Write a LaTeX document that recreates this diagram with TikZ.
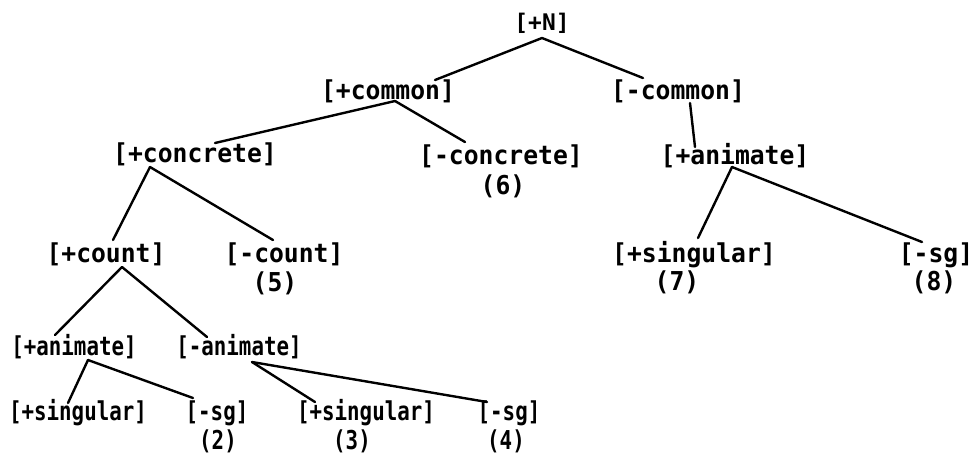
\documentclass[tikz,border=0pt]{standalone}
\usepackage{fontspec}
\usepackage{graphicx}
\setmonofont{DejaVu Sans Mono}
% wide (pica) and narrow (elite) typewriter settings
\newcommand\picatext[1]{\scalebox{0.95}[1]{#1}}
\newcommand\elitetext[1]{\scalebox{0.8}[1]{#1}}
\begin{document}
\begin{tikzpicture}[x=1pt,y=-1pt,
  feat/.style={inner sep=0pt,font=\ttfamily\bfseries\fontsize{26}{26}\selectfont},
  branch/.style={line width=2.4pt,line cap=round}]
\useasboundingbox (0,0) rectangle (976,459);
% feature nodes
\node[feat] (N)  at (542,23)  {\scalebox{0.88}[0.88]{[+N]}};
\node[feat] (cp) at (388,91)  {\picatext{[+common]}};
\node[feat] (cm) at (678,91)  {\picatext{[-common]}};
\node[feat] (cc) at (195,154) {\picatext{[+concrete]}};
\node[feat] (cn) at (501,156) {\picatext{[-concrete]}};
\node[feat] (ar) at (735,156) {\picatext{[+animate]}};
\node[feat] (ct) at (106,254) {\picatext{[+count]}};
\node[feat] (nc) at (284,254) {\picatext{[-count]}};
\node[feat] (sr) at (694,255) {\picatext{[+singular]}};
\node[feat] (gr) at (936,255) {\picatext{[-sg]}};
\node[feat] (al) at (74,347)  {\elitetext{[+animate]}};
\node[feat] (am) at (239,347) {\elitetext{[-animate]}};
\node[feat] (sl) at (78,413)  {\elitetext{[+singular]}};
\node[feat] (gl) at (217,413) {\elitetext{[-sg]}};
\node[feat] (sm) at (366,413) {\elitetext{[+singular]}};
\node[feat] (gm) at (509,413) {\elitetext{[-sg]}};
% class numbers
\node[feat] (n6) at (503,186) {\picatext{(6)}};
\node[feat] (n5) at (275,283) {\picatext{(5)}};
\node[feat] (n7) at (677,282) {\picatext{(7)}};
\node[feat] (n8) at (934,282) {\picatext{(8)}};
\node[feat] (n2) at (218,441) {\elitetext{(2)}};
\node[feat] (n3) at (352,441) {\elitetext{(3)}};
\node[feat] (n4) at (506,441) {\elitetext{(4)}};
% branches
\draw[branch] ([shift={(0,15)}]N.center) -- ([shift={(47,-11)}]cp.center);
\draw[branch] ([shift={(0,15)}]N.center) -- ([shift={(-35,-13)}]cm.center);
\draw[branch] ([shift={(7,10)}]cp.center) -- ([shift={(20,-11)}]cc.center);
\draw[branch] ([shift={(7,10)}]cp.center) -- ([shift={(-36,-14)}]cn.center);
\draw[branch] ([shift={(12,12)}]cm.center) -- ([shift={(-40,-9)}]ar.center);
\draw[branch] ([shift={(-45,13)}]cc.center) -- ([shift={(7,-14)}]ct.center);
\draw[branch] ([shift={(-45,13)}]cc.center) -- ([shift={(-11,-14)}]nc.center);
\draw[branch] ([shift={(-3,11)}]ar.center) -- ([shift={(4,-17)}]sr.center);
\draw[branch] ([shift={(-3,11)}]ar.center) -- ([shift={(-14,-13)}]gr.center);
\draw[branch] ([shift={(16,13)}]ct.center) -- ([shift={(-19,-12)}]al.center);
\draw[branch] ([shift={(16,13)}]ct.center) -- ([shift={(-32,-10)}]am.center);
\draw[branch] ([shift={(14,13)}]al.center) -- ([shift={(-10,-10)}]sl.center);
\draw[branch] ([shift={(14,13)}]al.center) -- ([shift={(-24,-15)}]gl.center);
\draw[branch] ([shift={(13,15)}]am.center) -- ([shift={(-51,-11)}]sm.center);
\draw[branch] ([shift={(13,15)}]am.center) -- ([shift={(-22,-11)}]gm.center);
\end{tikzpicture}
\end{document}
